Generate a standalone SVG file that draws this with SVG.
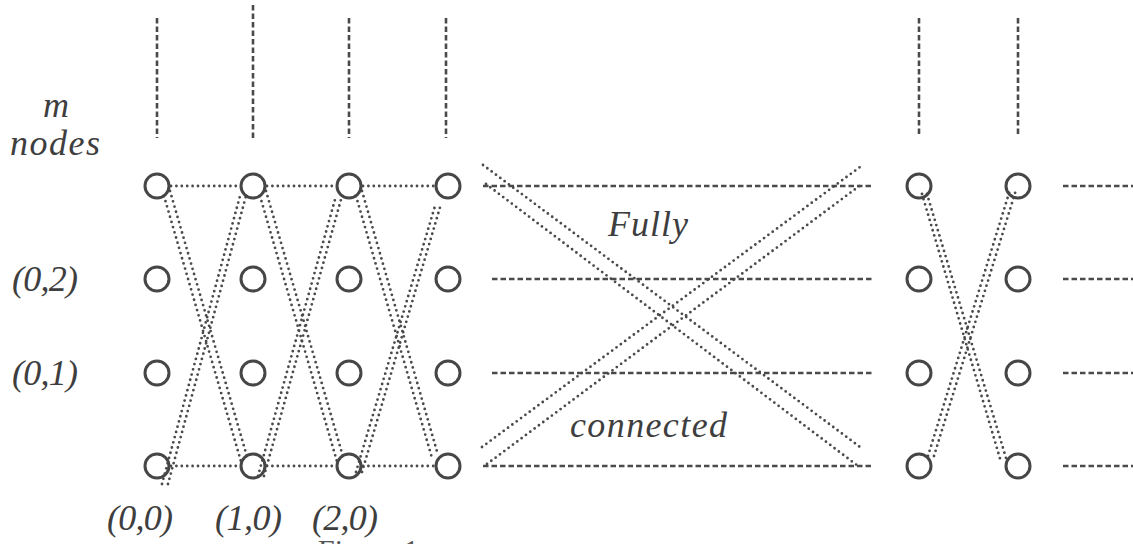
<svg xmlns="http://www.w3.org/2000/svg" width="1133" height="544" viewBox="0 0 1133 544">
  <style>
    .node { fill: none; stroke: #464646; stroke-width: 3; }
    .dot { fill: none; stroke: #4a4a4a; stroke-width: 2.8; stroke-linecap: round; stroke-dasharray: 0 5.4; }
    .dash { fill: none; stroke: #4a4a4a; stroke-width: 2.6; stroke-dasharray: 5.5 3; }
    .lbl { font-family: "Liberation Serif", "DejaVu Serif", serif; font-style: italic; fill: #3e3e3e; font-size: 36px; }
    .cap { font-family: "Liberation Serif", "DejaVu Serif", serif; fill: #555; font-size: 30px; }
  </style>
  <rect width="1133" height="544" fill="#fff"/>

  <!-- connectors -->
  <g id="connectors">
    <!-- columns continuing upward -->
    <line class="dash" x1="157" y1="18" x2="157" y2="138"/>
    <line class="dash" x1="253" y1="5" x2="253" y2="138"/>
    <line class="dash" x1="349" y1="18" x2="349" y2="138"/>
    <line class="dash" x1="446" y1="18" x2="446" y2="138"/>
    <line class="dash" x1="919" y1="18" x2="919" y2="137"/>
    <line class="dash" x1="1018" y1="18" x2="1018" y2="137"/>

    <!-- top and bottom row links -->
    <line class="dot" x1="171" y1="186" x2="240" y2="186"/>
    <line class="dot" x1="267" y1="186" x2="336" y2="186"/>
    <line class="dot" x1="363" y1="186" x2="434" y2="186"/>
    <line class="dot" x1="171" y1="466" x2="240" y2="466"/>
    <line class="dot" x1="267" y1="466" x2="336" y2="466"/>
    <line class="dot" x1="363" y1="466" x2="434" y2="466"/>

    <!-- butterfly stage 0 -> 1 -->
    <line class="dot" x1="170" y1="191" x2="248" y2="460"/>
    <line class="dot" x1="164" y1="196" x2="242" y2="465"/>
    <line class="dot" x1="162" y1="484" x2="240" y2="196"/>
    <line class="dot" x1="168" y1="484" x2="246" y2="196"/>
    <!-- butterfly stage 1 -> 2 -->
    <line class="dot" x1="266" y1="191" x2="344" y2="460"/>
    <line class="dot" x1="260" y1="196" x2="338" y2="465"/>
    <line class="dot" x1="258" y1="476" x2="336" y2="196"/>
    <line class="dot" x1="264" y1="476" x2="342" y2="196"/>
    <!-- butterfly stage 2 -> 3 -->
    <line class="dot" x1="362" y1="191" x2="438" y2="455"/>
    <line class="dot" x1="356" y1="196" x2="432" y2="458"/>
    <line class="dot" x1="356" y1="472" x2="435" y2="206"/>
    <line class="dot" x1="362" y1="472" x2="441" y2="204"/>

    <!-- fully connected middle section -->
    <line class="dash" x1="483" y1="186" x2="872" y2="186"/>
    <line class="dash" x1="492" y1="279" x2="872" y2="279"/>
    <line class="dash" x1="492" y1="373" x2="872" y2="373"/>
    <line class="dash" x1="483" y1="466" x2="872" y2="466"/>
    <line class="dot" x1="483" y1="165" x2="860" y2="447"/>
    <line class="dot" x1="486" y1="184" x2="858" y2="466"/>
    <line class="dot" x1="482" y1="447" x2="860" y2="167"/>
    <line class="dot" x1="487" y1="464" x2="862" y2="184"/>

    <!-- last stage -->
    <line class="dot" x1="922" y1="194" x2="1001" y2="462"/>
    <line class="dot" x1="927" y1="194" x2="1006" y2="458"/>
    <line class="dot" x1="928" y1="456" x2="1010" y2="190"/>
    <line class="dot" x1="934" y1="456" x2="1016" y2="190"/>

    <!-- rows continuing to the right -->
    <line class="dash" x1="1063" y1="186" x2="1133" y2="186"/>
    <line class="dash" x1="1063" y1="279" x2="1133" y2="279"/>
    <line class="dash" x1="1063" y1="373" x2="1133" y2="373"/>
    <line class="dash" x1="1063" y1="466" x2="1133" y2="466"/>
  </g>

  <!-- nodes: column c, row r -->
  <g id="n-0-3"><circle class="node" cx="157" cy="186" r="12"/></g>
  <g id="n-0-2"><circle class="node" cx="157" cy="279" r="12"/></g>
  <g id="n-0-1"><circle class="node" cx="157" cy="373" r="12"/></g>
  <g id="n-0-0"><circle class="node" cx="157" cy="466" r="12"/></g>
  <g id="n-1-3"><circle class="node" cx="253" cy="186" r="12"/></g>
  <g id="n-1-2"><circle class="node" cx="253" cy="279" r="12"/></g>
  <g id="n-1-1"><circle class="node" cx="253" cy="373" r="12"/></g>
  <g id="n-1-0"><circle class="node" cx="253" cy="466" r="12"/></g>
  <g id="n-2-3"><circle class="node" cx="349" cy="186" r="12"/></g>
  <g id="n-2-2"><circle class="node" cx="349" cy="279" r="12"/></g>
  <g id="n-2-1"><circle class="node" cx="349" cy="373" r="12"/></g>
  <g id="n-2-0"><circle class="node" cx="349" cy="466" r="12"/></g>
  <g id="n-3-3"><circle class="node" cx="448" cy="186" r="12"/></g>
  <g id="n-3-2"><circle class="node" cx="448" cy="279" r="12"/></g>
  <g id="n-3-1"><circle class="node" cx="448" cy="373" r="12"/></g>
  <g id="n-3-0"><circle class="node" cx="448" cy="466" r="12"/></g>
  <g id="n-k-3"><circle class="node" cx="919" cy="186" r="12"/></g>
  <g id="n-k-2"><circle class="node" cx="919" cy="279" r="12"/></g>
  <g id="n-k-1"><circle class="node" cx="919" cy="373" r="12"/></g>
  <g id="n-k-0"><circle class="node" cx="919" cy="466" r="12"/></g>
  <g id="n-l-3"><circle class="node" cx="1018" cy="186" r="12"/></g>
  <g id="n-l-2"><circle class="node" cx="1018" cy="279" r="12"/></g>
  <g id="n-l-1"><circle class="node" cx="1018" cy="373" r="12"/></g>
  <g id="n-l-0"><circle class="node" cx="1018" cy="466" r="12"/></g>

  <!-- labels -->
  <g id="labels">
    <text class="lbl" x="43" y="117" textLength="27">m</text>
    <text class="lbl" x="10" y="155" textLength="90">nodes</text>
    <text class="lbl" x="12" y="291" textLength="66">(0,2)</text>
    <text class="lbl" x="12" y="385" textLength="66">(0,1)</text>
    <text class="lbl" x="107" y="530" textLength="66">(0,0)</text>
    <text class="lbl" x="215" y="530" textLength="67">(1,0)</text>
    <text class="lbl" x="312" y="530" textLength="66">(2,0)</text>
    <text class="lbl" x="608" y="236" textLength="80" font-size="37">Fully</text>
    <text class="lbl" x="570" y="437" textLength="157" font-size="38">connected</text>
    <text class="cap" x="318" y="560">Figure 1:</text>
  </g>
</svg>
